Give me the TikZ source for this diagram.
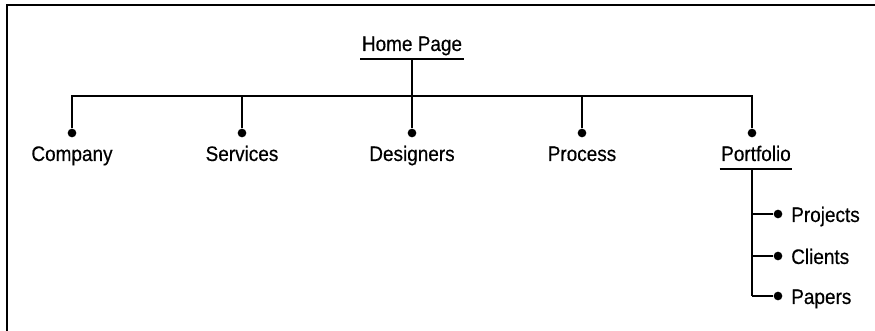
\documentclass[tikz,border=0pt]{standalone}
\usepackage{fontspec}
\usepackage{tikz}
\usetikzlibrary{positioning}
\newfontfamily\pagefont[FakeStretch=0.9,FakeBold=0.4]{Liberation Sans}

\begin{document}
\begin{tikzpicture}[x=0.75pt,y=-0.75pt,
    page/.style={font=\pagefont\fontsize{15.8pt}{18pt}\selectfont,inner sep=0pt},
    uline/.style={page,text depth=0pt,inner ysep=6pt,inner xsep=1pt,
      append after command={(\tikzlastnode.south west) edge[link] (\tikzlastnode.south east)}},
    dot/.style={circle,fill,inner sep=0pt,minimum size=6.5pt},
    link/.style={line width=1.3pt}]
  \useasboundingbox (0,0) rectangle (875,331);
  \draw[line width=1.5pt] (7,331) -- (7,5) -- (875,5);
  \node[uline,anchor=base] (home) at (412,51) {Home Page};
  \coordinate (bar) at (412,96);
  \foreach \n/\x/\t in {com/72/Company,ser/242/Services,des/412/Designers,pro/582/Process} {
    \node[dot] (d\n) at (\x,133) {};
    \node[page,anchor=base] (\n) at (\x,161) {\t};
  }
  \node[dot] (dpor) at (752,133) {};
  \node[uline,anchor=base] (por) at (756,161) {Portfolio};
  \draw[link] (dcom) -- (dcom |- bar) -| (dpor);
  \foreach \n in {ser,pro} \draw[link] (d\n) -- (d\n |- bar);
  \draw[link] (home.south) -- (ddes);
  % portfolio sub pages
  \foreach \n/\y/\t in {prj/214/Projects,cli/256/Clients,pap/296/Papers} {
    \node[dot] (d\n) at (778,\y) {};
    \node[page,anchor=base west] (\n) at (791,\y+8) {\t};
    \draw[link] (dpor |- d\n) -- (d\n);
  }
  \draw[link] (dpor |- por.south) -- (dpor |- dpap);
\end{tikzpicture}
\end{document}
